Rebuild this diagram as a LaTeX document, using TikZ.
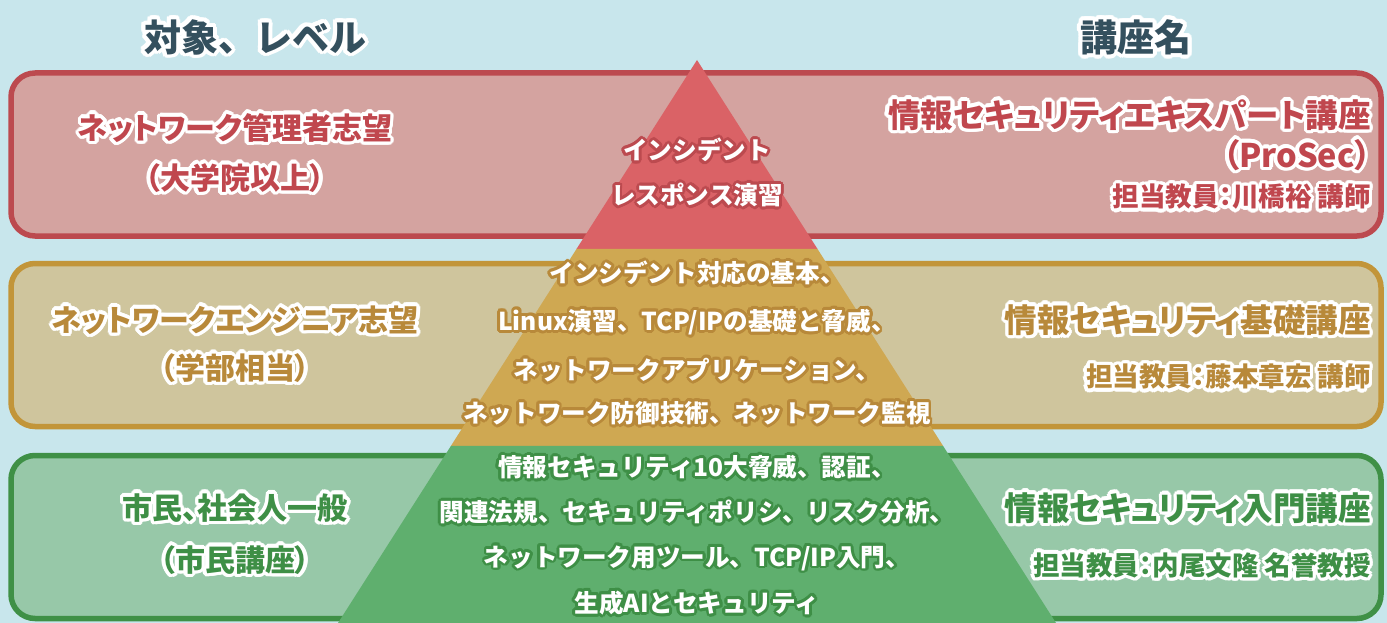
\documentclass[tikz,border=0pt]{standalone}
\usepackage{fontspec}
\setmainfont{Noto Sans CJK JP}[RawFeature=+palt]
\newfontfamily\fwfont{Noto Sans CJK JP}
\usetikzlibrary{calc}
\definecolor{bg}{HTML}{C8E6EC}
\definecolor{titlec}{HTML}{34505E}
\definecolor{rbd}{HTML}{BC4A4F}
\definecolor{rfill}{HTML}{D4A3A0}
\definecolor{rtri}{HTML}{DA6266}
\definecolor{rtxt}{HTML}{C0474E}
\definecolor{tbd}{HTML}{C29539}
\definecolor{tfill}{HTML}{CFC59D}
\definecolor{ttri}{HTML}{CFA852}
\definecolor{ttxt}{HTML}{B8893A}
\definecolor{gbd}{HTML}{3F9046}
\definecolor{gfill}{HTML}{97C8A8}
\definecolor{gtri}{HTML}{5FAF6E}
\definecolor{gtxt}{HTML}{3E8F46}
\newcommand\otxt[6]{%
  \foreach \oa in {0,20,...,340}{\node[#3,text=#4] at ($(#2)+(\oa:#5)$) {#6};}
  \node[#3] (#1) at (#2) {#6};}
\begin{document}
\begin{tikzpicture}[x=1pt,y=-1pt,
  tx/.style={inner sep=0pt,font=\bfseries\fontsize{#1}{#1}\selectfont},
  fw/.style={inner sep=0pt,font=\fwfont\bfseries\fontsize{#1}{#1}\selectfont},
  title/.style={fw=37,text=titlec},
  lhead/.style={tx=30,text=#1},
  rhead/.style={tx=32.5,text=#1,anchor=east},
  rsub/.style={tx=26.5,text=#1,anchor=east},
  tri/.style={fw=24.6,text=white},
  lvbox/.style={draw=#1,line width=5.5pt,rounded corners=24pt,minimum width=1370pt,minimum height=163pt,inner sep=0pt}]
\fill[bg] (0,0) rectangle (1387,623);
\useasboundingbox (0,0) rectangle (1387,623);
% boxes
\node[lvbox=rbd,fill=rfill] (rbox) at (696,154.5) {};
\node[lvbox=tbd,fill=tfill] (tbox) at (696,345) {};
\node[lvbox=gbd,fill=gfill] (gbox) at (696,537) {};
% pyramid
\coordinate (apex) at (697,60);
\coordinate (bl) at (338,623);
\coordinate (br) at (1056,623);
\coordinate (l1) at ($(apex)!0.3357!(bl)$);
\coordinate (r1) at ($(apex)!0.3357!(br)$);
\coordinate (l2) at ($(apex)!0.6856!(bl)$);
\coordinate (r2) at ($(apex)!0.6856!(br)$);
\fill[rtri] (apex) -- (l1) -- (r1) -- cycle;
\fill[ttri] (l1) -- (l2) -- (r2) -- (r1) -- cycle;
\fill[gtri] (l2) -- (bl) -- (br) -- (r2) -- cycle;
% titles
\otxt{t1}{255,37}{title}{white}{4}{対象、レベル}
\otxt{t2}{1136,37}{title}{white}{4}{講座名}
% left column
\otxt{a1}{235,128}{lhead=rtxt}{white}{3.5}{ネットワーク管理者志望}
\otxt{a2}{235,178}{lhead=rtxt}{white}{3.5}{（大学院以上）}
\otxt{b1}{235,320}{lhead=ttxt}{white}{3.5}{ネットワークエンジニア志望}
\otxt{b2}{235,368}{lhead=ttxt}{white}{3.5}{（学部相当）}
\otxt{c1}{235,508}{lhead=gtxt}{white}{3.5}{市民、社会人一般}
\otxt{c2}{235,560}{lhead=gtxt}{white}{3.5}{（市民講座）}
% right column
\otxt{p1}{1371,115}{rhead=rtxt}{white}{3.5}{情報セキュリティエキスパート講座}
\otxt{p2}{1371,155}{rhead=rtxt}{white}{3.5}{（ProSec）}
\otxt{p3}{1371,197}{rsub=rtxt}{white}{3.5}{担当教員：川橋裕 講師}
\otxt{q1}{1371,320}{rhead=ttxt}{white}{3.5}{情報セキュリティ基礎講座}
\otxt{q2}{1371,377}{rsub=ttxt}{white}{3.5}{担当教員：藤本章宏 講師}
\otxt{s1}{1371,508}{rhead=gtxt}{white}{3.5}{情報セキュリティ入門講座}
\otxt{s2}{1371,565}{rsub=gtxt}{white}{3.5}{担当教員：内尾文隆 名誉教授}
% pyramid texts
\otxt{m1}{697,150}{tri}{rbd}{2.8}{インシデント}
\otxt{m2}{697,195}{tri}{rbd}{2.8}{レスポンス演習}
\otxt{n1}{697,273}{tri}{ttxt}{2.8}{インシデント対応の基本、}
\otxt{n2}{697,322}{tri}{ttxt}{2.8}{Linux演習、TCP/IPの基礎と脅威、}
\otxt{n3}{697,370}{tri}{ttxt}{2.8}{ネットワークアプリケーション、}
\otxt{n4}{697,413}{tri}{ttxt}{2.8}{ネットワーク防御技術、ネットワーク監視}
\otxt{o1}{697,467}{tri}{gtxt}{2.8}{情報セキュリティ10大脅威、認証、}
\otxt{o2}{697,512}{tri}{gtxt}{2.8}{関連法規、セキュリティポリシ、リスク分析、}
\otxt{o3}{697,558}{tri}{gtxt}{2.8}{ネットワーク用ツール、TCP/IP入門、}
\otxt{o4}{697,603}{tri}{gtxt}{2.8}{生成AIとセキュリティ}
\end{tikzpicture}
\end{document}
